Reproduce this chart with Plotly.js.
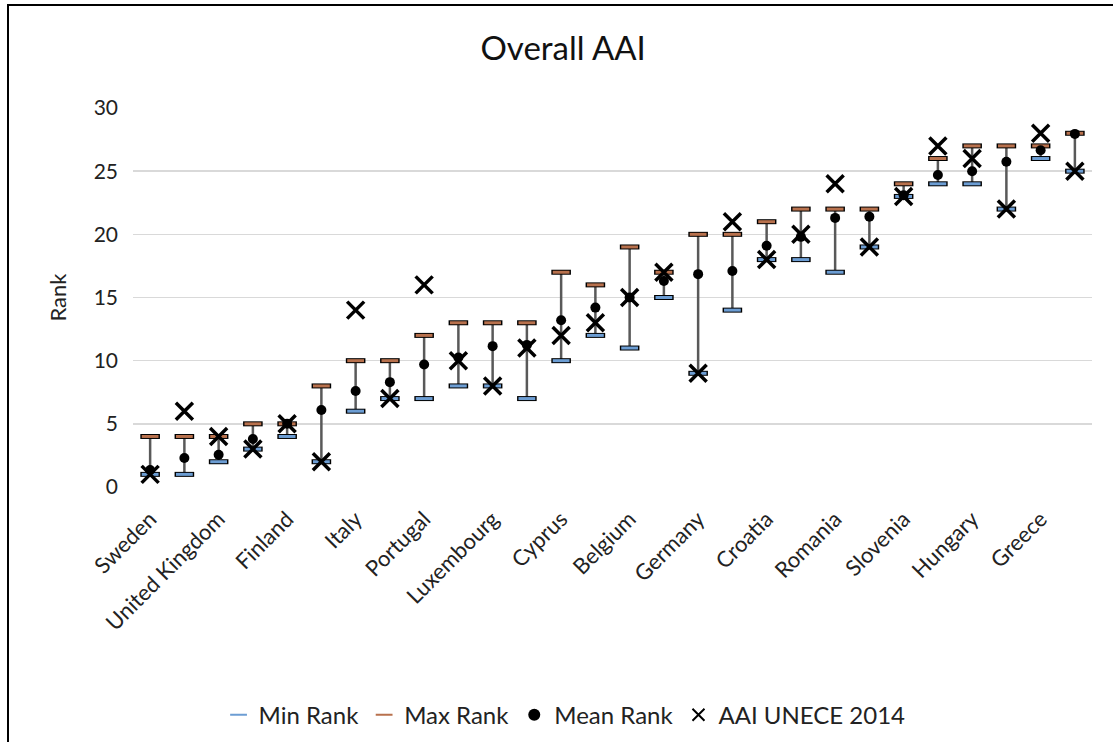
<!DOCTYPE html>
<html>
<head>
<meta charset="utf-8">
<script src="https://cdn.plot.ly/plotly-3.0.1.min.js"></script>
<style>
  html, body { margin: 0; padding: 0; background: #fff; overflow: hidden; }
  #chart { position: absolute; left: 0; top: 0; width: 1113px; height: 742px; }
  #frame { position: absolute; left: 7px; top: 4px; width: 1200px; height: 900px;
           border: 2.5px solid #000; pointer-events: none; z-index: 10; }
</style>
</head>
<body>
<div id="chart"></div>
<div id="frame"></div>
<script>
// ---- data ----
const countries = ["Sweden", "Netherlands", "United Kingdom", "Ireland", "Finland", "Denmark",
  "Italy", "Czech Republic", "Portugal", "France", "Luxembourg", "Estonia", "Cyprus", "Austria",
  "Belgium", "Latvia", "Germany", "Lithuania", "Croatia", "Bulgaria", "Romania", "Malta",
  "Slovenia", "Poland", "Hungary", "Spain", "Greece", "Slovakia"];
const labelledCountries = ["Sweden", "United Kingdom", "Finland", "Italy", "Portugal", "Luxembourg",
  "Cyprus", "Belgium", "Germany", "Croatia", "Romania", "Slovenia", "Hungary", "Greece"];
const minRank  = [1, 1, 2, 3, 4, 2, 6, 7, 7, 8, 8, 7, 10, 12, 11, 15, 9, 14, 18, 18, 17, 19, 23, 24, 24, 22, 26, 25];
const maxRank  = [4, 4, 4, 5, 5, 8, 10, 10, 12, 13, 13, 13, 17, 16, 19, 17, 20, 20, 21, 22, 22, 22, 24, 26, 27, 27, 27, 28];
const meanRank = [1.35, 2.3, 2.55, 3.8, 5.0, 6.1, 7.6, 8.3, 9.7, 10.25, 11.15, 11.25, 13.2, 14.2, 15.0,
  16.3, 16.85, 17.1, 19.1, 19.8, 21.3, 21.4, 23.1, 24.7, 25.0, 25.75, 26.65, 27.95];
const aai2014  = [1, 6, 4, 3, 5, 2, 14, 7, 16, 10, 8, 11, 12, 13, 15, 17, 9, 21, 18, 20, 24, 19, 23, 27, 26, 22, 28, 25];

const FONT = "Lato, 'Open Sans', sans-serif";
const minColor = "#6C9DD3";
const maxColor = "#B8714D";

const traces = [
  { // vertical range line from min to max
    x: countries, y: meanRank, type: "scatter", mode: "markers",
    marker: { size: 1, color: "rgba(0,0,0,0)" },
    error_y: { type: "data", symmetric: false,
      array: maxRank.map((v, i) => v - meanRank[i]),
      arrayminus: meanRank.map((v, i) => v - minRank[i]),
      color: "#595959", thickness: 2.5, width: 0 },
    showlegend: false, hoverinfo: "skip", cliponaxis: false
  },
  { x: countries, y: minRank, type: "scatter", mode: "markers", legendgroup: "min", showlegend: false,
    marker: { symbol: "line-ew", size: 14, color: "#000", line: { color: "#000", width: 5 } }, cliponaxis: false },
  { x: countries, y: minRank, type: "scatter", mode: "markers", name: "Min Rank", legendgroup: "min",
    marker: { symbol: "line-ew", size: 12, color: minColor, line: { color: minColor, width: 3 } }, cliponaxis: false },
  { x: countries, y: maxRank, type: "scatter", mode: "markers", legendgroup: "max", showlegend: false,
    marker: { symbol: "line-ew", size: 14, color: "#000", line: { color: "#000", width: 5 } }, cliponaxis: false },
  { x: countries, y: maxRank, type: "scatter", mode: "markers", name: "Max Rank", legendgroup: "max",
    marker: { symbol: "line-ew", size: 12, color: maxColor, line: { color: maxColor, width: 3 } }, cliponaxis: false },
  { x: countries, y: meanRank, type: "scatter", mode: "markers", name: "Mean Rank",
    marker: { symbol: "circle", size: 10, color: "#000" }, cliponaxis: false },
  { x: countries, y: aai2014, type: "scatter", mode: "markers", name: "AAI UNECE 2014",
    marker: { symbol: "x-thin-open", size: 17, color: "#000", line: { color: "#000", width: 3.5 } }, cliponaxis: false }
];

const layout = {
  width: 1113, height: 742,
  margin: { l: 133, r: 21, t: 107.5, b: 255.3, autoexpand: false },
  paper_bgcolor: "#fff", plot_bgcolor: "#fff",
  font: { family: FONT, color: "#222", size: 21 },
  title: { text: "Overall AAI", x: 0.506, xanchor: "center", y: 0.935, yanchor: "middle",
    font: { family: FONT, size: 33, color: "#111" } },
  xaxis: {
    type: "category", range: [-0.5, 27.5], automargin: false,
    tickmode: "array", tickvals: labelledCountries, ticktext: labelledCountries,
    tickangle: -45, tickfont: { family: FONT, size: 22, color: "#222" },
    ticklabelstandoff: 14,
    showgrid: false, zeroline: false, showline: false, ticks: ""
  },
  yaxis: {
    range: [0, 30], dtick: 5, automargin: false,
    tickfont: { family: FONT, size: 21, color: "#222" },
    gridcolor: "#D9D9D9", gridwidth: 1.5, zeroline: false, showline: false,
    ticklabelstandoff: 14,
    title: { text: "Rank", standoff: 20, font: { family: FONT, size: 22, color: "#222" } }
  },
  legend: { orientation: "h", x: 0.45, xanchor: "center", y: -0.602, yanchor: "middle",
    font: { family: FONT, size: 24, color: "#222" }, itemsizing: "constant", traceorder: "normal" },
  showlegend: true
};

Plotly.newPlot("chart", traces, layout, { displayModeBar: false, staticPlot: true });
</script>
</body>
</html>
